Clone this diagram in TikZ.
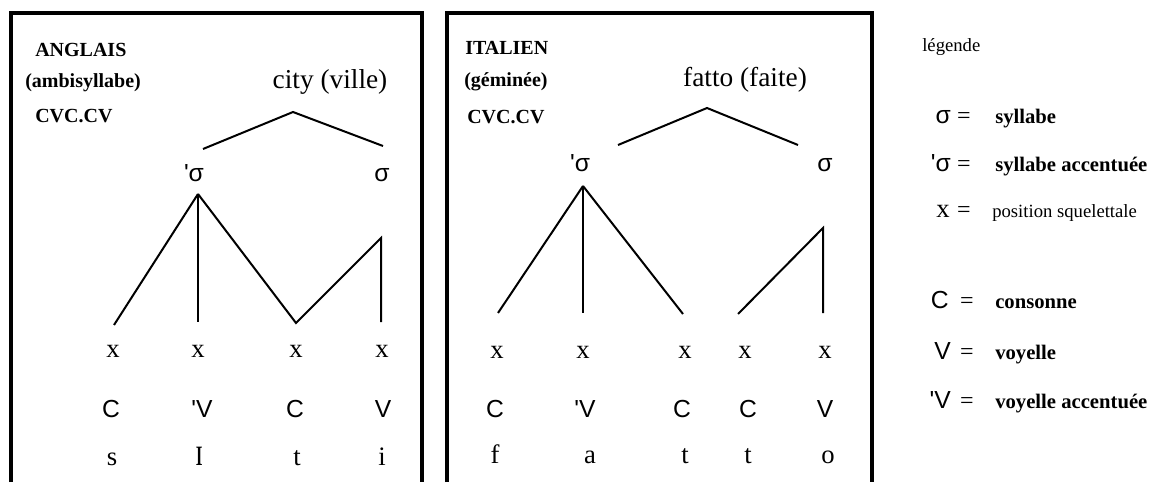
\documentclass[tikz,border=0pt]{standalone}
\usepackage{fontspec}
\setmainfont{Liberation Serif}
\newfontfamily\symfont{Liberation Sans}[Ligatures=TeXOff]
\usetikzlibrary{positioning}

\begin{document}
\begin{tikzpicture}[
        x=0.75pt, y=-0.75pt,
        % Cadres des deux exemples (ouverts en bas)
        cadre/.style={line width=3pt},
        % Branches des arbres
        branche/.style={line width=1.5pt},
        % Titres en gras
        titre/.style={
            anchor=base west,
            inner sep=0pt,
            font=\bfseries\fontsize{15}{18}\selectfont
        },
        % Le mot et sa traduction
        mot/.style={
            anchor=base,
            inner sep=0pt,
            font=\fontsize{20.5}{24}\selectfont
        },
        % Positions x et segments
        seg/.style={
            anchor=base,
            inner sep=0pt,
            font=\fontsize{20}{23}\selectfont
        },
        % Symboles sigma, C, V
        symb/.style={
            anchor=base,
            inner sep=0pt,
            font=\symfont\fontsize{18.5}{21}\selectfont
        },
        % Styles de la légende
        legsymb/.style={symb, anchor=base east},
        legegal/.style={seg, font=\fontsize{18}{21}\selectfont},
        legtexte/.style={
            anchor=base west,
            inner sep=0pt,
            font=\bfseries\fontsize{15.5}{18}\selectfont
        },
        legfin/.style={
            anchor=base west,
            inner sep=0pt,
            font=\fontsize{14}{17}\selectfont
        }
    ]

    \path[fill=white] (0,0) rectangle (1155,482);

    % Cadres
    \draw[cadre] (11,482) -- (11,13) -- (422,13) -- (422,482);
    \draw[cadre] (447,482) -- (447,13) -- (872,13) -- (872,482);

    % ---------- Anglais ----------
    \node[titre] (tA1) at (35,57) {ANGLAIS};
    \node[titre] (tA2) at (25,88) {(ambisyllabe)};
    \node[titre] (tA3) at (35,123) {CVC.CV};
    \node[mot] (motA) at (330,89) {city (ville)};

    \node[symb] (sA1) at (194,182) {'σ};
    \node[symb] (sA2) at (382,182) {σ};

    \node[seg] (xA1) at (113,357) {x};
    \node[seg] (xA2) at (198,357) {x};
    \node[seg] (xA3) at (296,357) {x};
    \node[seg] (xA4) at (382,357) {x};

    \node[symb] (cA1) at (111,417) {C};
    \node[symb] (cA2) at (202,417) {'V};
    \node[symb] (cA3) at (295,417) {C};
    \node[symb] (cA4) at (383,417) {V};

    \node[seg] (lA1) at (112,465) {s};
    \node[seg] (lA2) at (200,465) {\scalebox{1.1}[1.5]{ɪ}};
    \node[seg] (lA3) at (297,465) {t};
    \node[seg] (lA4) at (382,465) {i};

    % Points d'attache des branches
    \coordinate (hA) at (293,112);
    \coordinate (hAg) at (203,149);
    \coordinate (hAd) at (383,146);
    \coordinate (aA) at (198,194);
    \coordinate (bA1) at (114,325);
    \coordinate (bA2) at (198,322);
    \coordinate (bA3) at (296,323);
    \coordinate (aA2) at (381,238);
    \coordinate (bA4) at (381,322);

    \draw[branche] (hAg) -- (hA) -- (hAd);
    \draw[branche] (aA) -- (bA1);
    \draw[branche] (aA) -- (bA2);
    \draw[branche] (aA) -- (bA3) -- (aA2) -- (bA4);

    % ---------- Italien ----------
    \node[titre] (tI1) at (465,55) {ITALIEN};
    \node[titre] (tI2) at (464,87) {(géminée)};
    \node[titre] (tI3) at (467,124) {CVC.CV};
    \node[mot] (motI) at (745,87) {fatto (faite)};

    \node[symb] (sI1) at (580,172) {'σ};
    \node[symb] (sI2) at (825,172) {σ};

    \node[seg] (xI1) at (497,358) {x};
    \node[seg] (xI2) at (583,358) {x};
    \node[seg] (xI3) at (685,358) {x};
    \node[seg] (xI4) at (745,358) {x};
    \node[seg] (xI5) at (825,358) {x};

    \node[symb] (cI1) at (495,417) {C};
    \node[symb] (cI2) at (585,417) {'V};
    \node[symb] (cI3) at (682,417) {C};
    \node[symb] (cI4) at (748,417) {C};
    \node[symb] (cI5) at (825,417) {V};

    \node[seg] (lI1) at (495,463) {f};
    \node[seg] (lI2) at (590,463) {a};
    \node[seg] (lI3) at (685,463) {t};
    \node[seg] (lI4) at (748,463) {t};
    \node[seg] (lI5) at (828,463) {o};

    \coordinate (hI) at (707,108);
    \coordinate (hIg) at (618,145);
    \coordinate (hId) at (798,145);
    \coordinate (aI) at (583,186);
    \coordinate (bI1) at (498,313);
    \coordinate (bI2) at (583,313);
    \coordinate (bI3) at (683,314);
    \coordinate (bI4) at (738,314);
    \coordinate (aI2) at (823,228);
    \coordinate (bI5) at (823,313);

    \draw[branche] (hIg) -- (hI) -- (hId);
    \draw[branche] (aI) -- (bI1);
    \draw[branche] (aI) -- (bI2);
    \draw[branche] (aI) -- (bI3);
    \draw[branche] (bI4) -- (aI2) -- (bI5);

    % ---------- Légende ----------
    \node[legfin] (leg) at (922,52) {légende};

    \node[legsymb] (ls1) at (951,124) {σ};
    \node[legegal] (le1) at (964,124) {=};
    \node[legtexte] (lt1) at (995,124) {syllabe};

    \node[legsymb] (ls2) at (951,172) {'σ};
    \node[legegal] (le2) at (964,172) {=};
    \node[legtexte] (lt2) at (995,172) {syllabe accentuée};

    \node[seg, anchor=base east] (ls3) at (950,218) {x};
    \node[legegal] (le3) at (964,218) {=};
    \node[legfin] (lt3) at (992,218) {position squelettale};

    \node[legsymb] (ls4) at (949,309) {C};
    \node[legegal] (le4) at (967,309) {=};
    \node[legtexte] (lt4) at (995,309) {consonne};

    \node[legsymb] (ls5) at (951,359) {V};
    \node[legegal] (le5) at (967,359) {=};
    \node[legtexte] (lt5) at (995,359) {voyelle};

    \node[legsymb] (ls6) at (951,408) {'V};
    \node[legegal] (le6) at (967,408) {=};
    \node[legtexte] (lt6) at (995,408) {voyelle accentuée};

\end{tikzpicture}
\end{document}
